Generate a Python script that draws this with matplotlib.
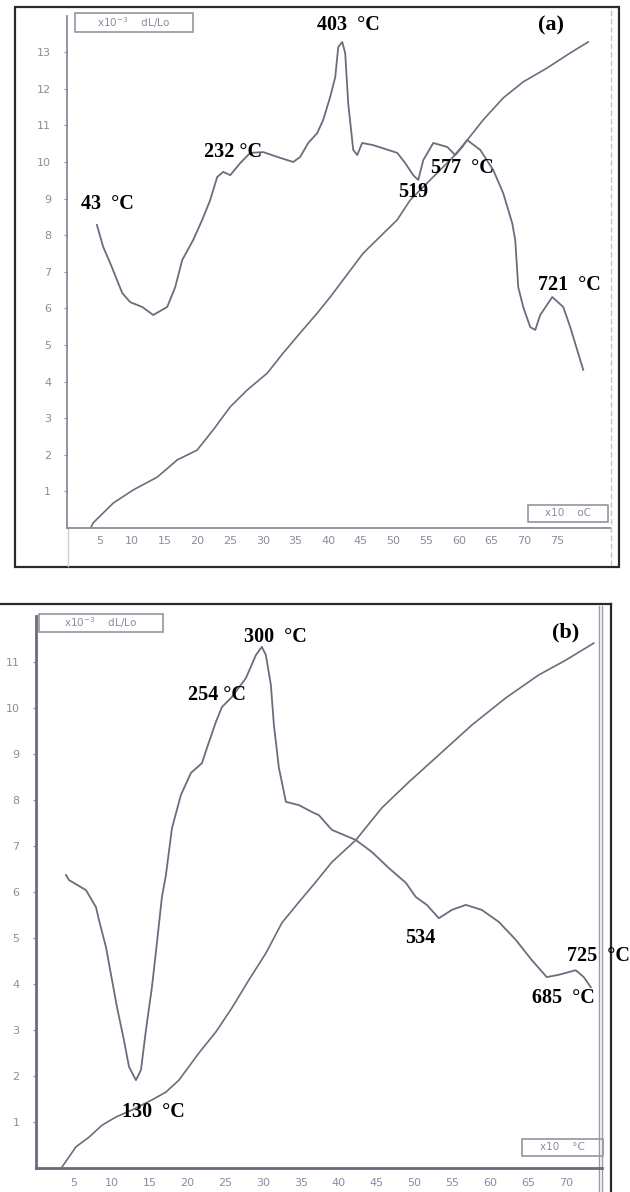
import matplotlib
matplotlib.use('Agg')
import matplotlib.pyplot as plt
from matplotlib.patches import Rectangle

# ---------------- data: panel (a) ----------------
a_dil_x = [4.65, 5.61, 6.68, 8.52, 9.74, 11.57, 13.26, 15.40, 16.62, 17.69, 19.37, 20.75,
           21.97, 23.04, 23.96, 25.03, 26.56, 28.09, 30.08, 32.22, 34.67, 35.73, 36.96,
           38.33, 39.25, 40.32, 41.09, 41.55, 42.16, 42.61, 43.07, 43.84, 44.45, 45.21,
           46.90, 49.19, 50.57, 51.79, 53.01, 53.78, 54.55, 56.08, 58.22, 59.44, 60.51,
           61.27, 63.26, 65.25, 66.77, 68.15, 68.61, 69.07, 69.83, 70.90, 71.67, 72.43,
           74.27, 75.95, 77.02, 78.09, 79.01]
a_dil_y = [8.28, 7.68, 7.24, 6.42, 6.17, 6.04, 5.82, 6.04, 6.58, 7.32, 7.87, 8.42,
           8.96, 9.59, 9.73, 9.64, 9.97, 10.25, 10.27, 10.14, 10.00, 10.14, 10.52,
           10.79, 11.15, 11.78, 12.32, 13.14, 13.28, 12.98, 11.61, 10.33, 10.19, 10.52,
           10.46, 10.33, 10.25, 9.97, 9.64, 9.51, 10.05, 10.52, 10.41, 10.19, 10.41,
           10.60, 10.33, 9.78, 9.15, 8.33, 7.87, 6.58, 6.04, 5.49, 5.41, 5.82,
           6.31, 6.04, 5.49, 4.86, 4.32]
a_ref_x = [3.78, 4.08, 7.14, 10.20, 13.87, 16.93, 19.98, 22.43, 25.03, 27.63, 30.69,
           33.13, 35.73, 38.33, 40.32, 45.37, 50.57, 52.55, 55.61, 59.13, 61.27, 63.71,
           66.77, 69.83, 73.50, 77.02, 79.77]
a_ref_y = [0.03, 0.14, 0.68, 1.04, 1.39, 1.86, 2.13, 2.68, 3.31, 3.77, 4.23,
           4.78, 5.33, 5.87, 6.31, 7.51, 8.42, 8.96, 9.51, 10.14, 10.60, 11.15,
           11.75, 12.19, 12.57, 12.98, 13.28]
a_xticks = [5, 10, 15, 20, 25, 30, 35, 40, 45, 50, 55, 60, 65, 70, 75]
a_yticks = [1, 2, 3, 4, 5, 6, 7, 8, 9, 10, 11, 12, 13]
a_labels = ["43  \u00b0C", "232 \u00b0C", "403  \u00b0C", "519", "577  \u00b0C", "721  \u00b0C"]
a_label_x = [2.25, 21.06, 38.33, 50.72, 55.77, 72.13]
a_label_y = [8.85, 10.27, 13.74, 9.18, 9.84, 6.64]

# ---------------- data: panel (b) ----------------
b_dil_x = [3.96, 4.36, 6.61, 7.93, 8.32, 9.25, 10.04, 10.70, 11.62, 12.29, 13.21, 13.87,
           14.53, 15.32, 15.98, 16.64, 17.17, 17.97, 19.15, 20.48, 21.93, 22.59, 23.78,
           24.57, 25.89, 27.74, 29.06, 29.85, 30.38, 31.04, 31.44, 32.10, 33.03, 34.74,
           36.46, 37.38, 39.10, 42.27, 44.39, 46.63, 48.88, 50.20, 51.65, 53.24, 54.95,
           56.80, 58.92, 61.16, 63.41, 65.52, 67.50, 69.09, 71.33, 72.39, 73.32]
b_dil_y = [6.37, 6.26, 6.04, 5.67, 5.39, 4.80, 4.09, 3.50, 2.78, 2.20, 1.91, 2.13,
           3.00, 3.93, 4.89, 5.89, 6.37, 7.39, 8.11, 8.59, 8.80, 9.13, 9.70,
           10.02, 10.24, 10.65, 11.15, 11.33, 11.15, 10.50, 9.63, 8.70, 7.96, 7.89,
           7.74, 7.67, 7.35, 7.13, 6.87, 6.52, 6.20, 5.89, 5.72, 5.43, 5.61,
           5.72, 5.61, 5.35, 4.96, 4.52, 4.15, 4.20, 4.30, 4.15, 3.93]
b_ref_x = [3.43, 5.28, 7.00, 8.72, 10.57, 12.68, 15.32, 17.17, 18.89, 21.53, 23.78,
           25.89, 28.14, 30.38, 32.50, 34.74, 36.99, 39.10, 42.27, 45.71, 49.27, 53.24,
           57.60, 62.09, 66.45, 70.01, 73.71]
b_ref_y = [0.02, 0.46, 0.67, 0.93, 1.11, 1.26, 1.48, 1.65, 1.91, 2.50, 2.96,
           3.48, 4.09, 4.67, 5.33, 5.78, 6.22, 6.65, 7.13, 7.83, 8.39, 8.98,
           9.63, 10.22, 10.72, 11.04, 11.41]
b_xticks = [5, 10, 15, 20, 25, 30, 35, 40, 45, 50, 55, 60, 65, 70]
b_yticks = [1, 2, 3, 4, 5, 6, 7, 8, 9, 10, 11]
b_labels = ["300  \u00b0C", "254 \u00b0C", "130  \u00b0C", "534", "725  \u00b0C", "685  \u00b0C"]
b_label_x = [27.48, 20.08, 11.36, 48.74, 70.15, 65.52]
b_label_y = [11.54, 10.28, 1.22, 5.00, 4.61, 3.70]

# ---------------- figure ----------------
W, H = 630, 1192
fig = plt.figure(figsize=(W / 100, H / 100), dpi=100)
fig.patch.set_facecolor('white')

bg = fig.add_axes([0, 0, 1, 1])
bg.set_xlim(0, W)
bg.set_ylim(H, 0)
bg.axis('off')
bg.set_zorder(0)


def px_axes(l, r, t, b):
    ax = fig.add_axes([l / W, 1 - b / H, (r - l) / W, (b - t) / H])
    ax.patch.set_alpha(0)
    ax.set_zorder(1)
    return ax


curve_color = '#6c6c7e'
tick_color = '#8c8c9c'
serif = ['Liberation Serif', 'DejaVu Serif']


def style_axes(ax, xticks, yticks, xlim, ylim, spine_color, spine_lw, ypad, xpad):
    ax.set_xlim(*xlim)
    ax.set_ylim(*ylim)
    ax.set_xticks(xticks)
    ax.set_yticks(yticks)
    ax.set_xticklabels([str(v) for v in xticks])
    ax.set_yticklabels([str(v) for v in yticks])
    for s in ['top', 'right']:
        ax.spines[s].set_visible(False)
    for s in ['left', 'bottom']:
        ax.spines[s].set_color(spine_color)
        ax.spines[s].set_linewidth(spine_lw)
    ax.tick_params(axis='y', length=2, width=0.8, color=tick_color, labelcolor=tick_color,
                   labelsize=8, pad=ypad)
    ax.tick_params(axis='x', length=0, labelcolor=tick_color, labelsize=8, pad=xpad)


# panel (a)
ax_a = px_axes(66.5, 610, 15.6, 528)
style_axes(ax_a, a_xticks, a_yticks, (0, 83.1), (0, 14), '#8a8a9a', 1.3, 9, 6)
ax_a.plot(a_dil_x, a_dil_y, color=curve_color, lw=1.3)
ax_a.plot(a_ref_x, a_ref_y, color=curve_color, lw=1.2)
for t, x, y in zip(a_labels, a_label_x, a_label_y):
    ax_a.text(x, y, t, family=serif, weight='bold', fontsize=14.5, ha='left', va='center',
              color='black', clip_on=False)
ax_a.text(72.13, 13.74, "(a)", family=serif, weight='bold', fontsize=16, ha='left',
          va='center', color='black', clip_on=False)

# panel (b)
ax_b = px_axes(36, 602, 616, 1168)
style_axes(ax_b, b_xticks, b_yticks, (0, 74.8), (0, 12), '#6a6a7a', 2.0, 10, 7)
ax_b.plot(b_dil_x, b_dil_y, color=curve_color, lw=1.3)
ax_b.plot(b_ref_x, b_ref_y, color=curve_color, lw=1.2)
for t, x, y in zip(b_labels, b_label_x, b_label_y):
    ax_b.text(x, y, t, family=serif, weight='bold', fontsize=14.5, ha='left', va='center',
              color='black', clip_on=False, zorder=5)
ax_b.text(68.16, 11.65, "(b)", family=serif, weight='bold', fontsize=16, ha='left',
          va='center', color='black', clip_on=False)

# frames and decorations (pixel coordinates on the background)
bg.add_patch(Rectangle((15, 7), 604, 560, fill=False, ec='#2a2a2a', lw=1.6))
bg.plot([611, 611], [10, 565], color='#c4c4cc', lw=1.0, ls=(0, (4, 2)))
bg.plot([68, 68], [528, 566], color='#d0d0d8', lw=1.0)
bg.plot([0, 611], [604, 604], color='#2a2a2a', lw=1.6)
bg.plot([611, 611], [604, H], color='#2a2a2a', lw=1.6)
bg.plot([599, 599], [606, H], color='#9a9aa8', lw=1.0)
bg.plot([602, 602], [606, H], color='#9a9aa8', lw=1.0)

box_kw = dict(fill=True, fc='white', ec='#8c8c9c', lw=1.1)
txt_kw = dict(color='#8c8c9c', fontsize=7.5, ha='center', va='center')
bg.add_patch(Rectangle((75, 13), 118, 19, **box_kw))
bg.text(134, 22.5, "x10$^{-3}$    dL/Lo", **txt_kw)
bg.add_patch(Rectangle((528, 505), 80, 17, **box_kw))
bg.text(568, 513.5, "x10    oC", **txt_kw)
bg.add_patch(Rectangle((39, 614), 124, 18, **box_kw))
bg.text(101, 623, "x10$^{-3}$    dL/Lo", **txt_kw)
bg.add_patch(Rectangle((522, 1139), 81, 17, **box_kw))
bg.text(562, 1147.5, "x10    \u00b0C", **txt_kw)

fig.savefig('out.png', dpi=100, facecolor='white')
